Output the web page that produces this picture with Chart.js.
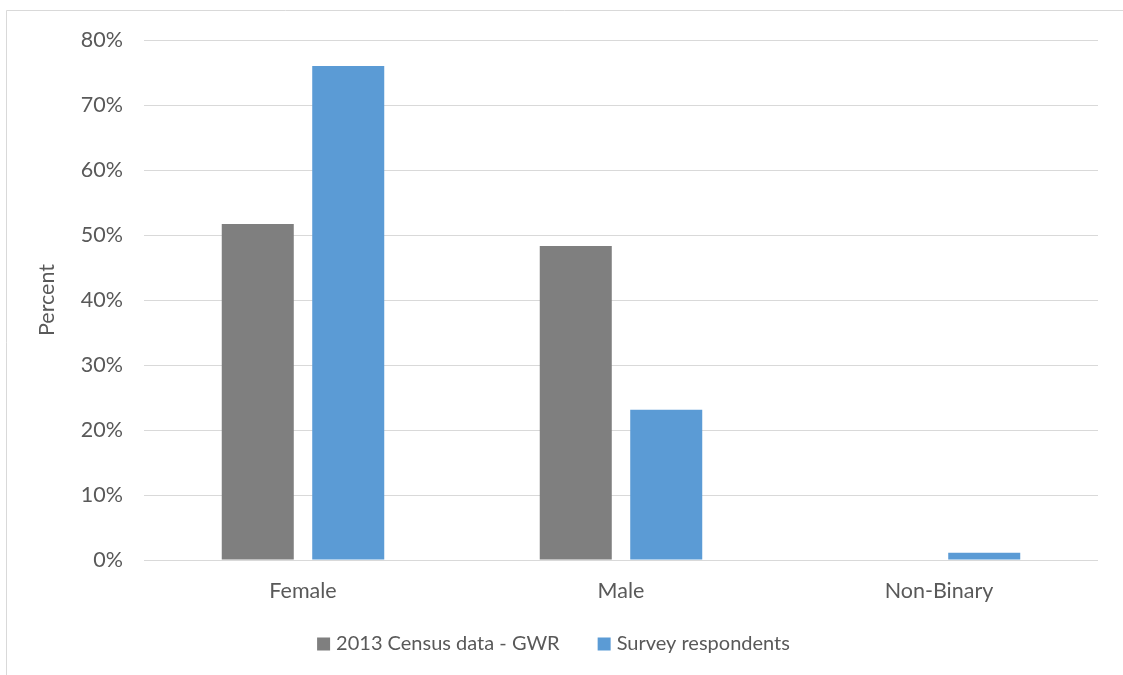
<!DOCTYPE html>
<html>
<head>
<meta charset="utf-8">
<script src="https://cdn.jsdelivr.net/npm/chart.js@4/dist/chart.umd.min.js"></script>
<style>
  html, body { margin: 0; padding: 0; background: #ffffff; }
  #wrap { width: 1123px; height: 675px; position: relative; }
</style>
</head>
<body>
<div id="wrap"><canvas id="c" width="1123" height="675"></canvas></div>
<script>
// Gender breakdown: census vs survey (percent of total)
const categories = ['Female', 'Male', 'Non-Binary'];
const censusValues = [51.7, 48.3, 0];
const surveyValues = [76.0, 23.1, 1.1];
const seriesNames = ['2013 Census data - GWR', 'Survey respondents'];
const yTicks = [0, 10, 20, 30, 40, 50, 60, 70, 80];

const FONT = "Lato, 'Open Sans', sans-serif";
const FONT_SIZE = 21.5;
const LEGEND_SIZE = 20;
const TEXT = '#595959';
const GRID = '#d9d9d9';

// thin frame around the chart (top and left edges)
const framePlugin = {
  id: 'frame',
  beforeDraw(chart) {
    const ctx = chart.ctx;
    ctx.save();
    ctx.fillStyle = '#ffffff';
    ctx.fillRect(0, 0, chart.width, chart.height);
    ctx.strokeStyle = GRID;
    ctx.lineWidth = 1;
    ctx.beginPath();
    ctx.moveTo(6.5, chart.height);
    ctx.lineTo(6.5, 10.5);
    ctx.lineTo(chart.width, 10.5);
    ctx.stroke();
    ctx.restore();
  }
};

// legend row under the axis: square swatch + series name, centred
const legendRowPlugin = {
  id: 'legendRow',
  afterDraw(chart) {
    const ctx = chart.ctx;
    const box = 13, gapText = 6, gapItem = 38;
    ctx.save();
    ctx.font = LEGEND_SIZE + 'px ' + FONT;
    ctx.textBaseline = 'middle';
    ctx.textAlign = 'left';
    const items = chart.data.datasets.map(ds => ({
      label: ds.label,
      color: ds.backgroundColor,
      w: box + gapText + ctx.measureText(ds.label).width
    }));
    const total = items.reduce((s, it) => s + it.w, 0) + gapItem * (items.length - 1);
    let x = chart.width / 2 - 8 - total / 2;
    const y = chart.chartArea.bottom + 84;
    items.forEach(it => {
      ctx.fillStyle = it.color;
      ctx.fillRect(x, y - box / 2, box, box);
      ctx.fillStyle = TEXT;
      ctx.fillText(it.label, x + box + gapText, y);
      x += it.w + gapItem;
    });
    ctx.restore();
  }
};

new Chart(document.getElementById('c'), {
  type: 'bar',
  data: {
    labels: categories,
    datasets: [
      { label: seriesNames[0], data: censusValues, backgroundColor: '#7f7f7f' },
      { label: seriesNames[1], data: surveyValues, backgroundColor: '#5b9bd5' }
    ]
  },
  options: {
    responsive: false,
    animation: false,
    devicePixelRatio: 1,
    categoryPercentage: 0.569,
    barPercentage: 0.796,
    layout: { padding: { left: 34, right: 25, top: 40, bottom: 0 } },
    plugins: {
      tooltip: { enabled: false },
      legend: { display: false }
    },
    scales: {
      x: {
        grid: { display: false },
        border: { display: false },
        ticks: { color: TEXT, font: { family: FONT, size: FONT_SIZE }, padding: 10 },
        afterFit(scale) { scale.height = 115; }
      },
      y: {
        min: 0,
        max: 80,
        afterBuildTicks(scale) { scale.ticks = yTicks.map(v => ({ value: v })); },
        grid: { color: GRID, lineWidth: 1, drawTicks: false },
        border: { display: false },
        ticks: {
          color: TEXT,
          font: { family: FONT, size: FONT_SIZE },
          padding: 21,
          callback: v => v + '%'
        },
        title: {
          display: true,
          text: 'Percent',
          color: TEXT,
          font: { family: FONT, size: FONT_SIZE },
          padding: { top: 0, bottom: 12 }
        },
        afterFit(scale) { scale.width = 110; }
      }
    }
  },
  plugins: [framePlugin, legendRowPlugin]
});
</script>
</body>
</html>
